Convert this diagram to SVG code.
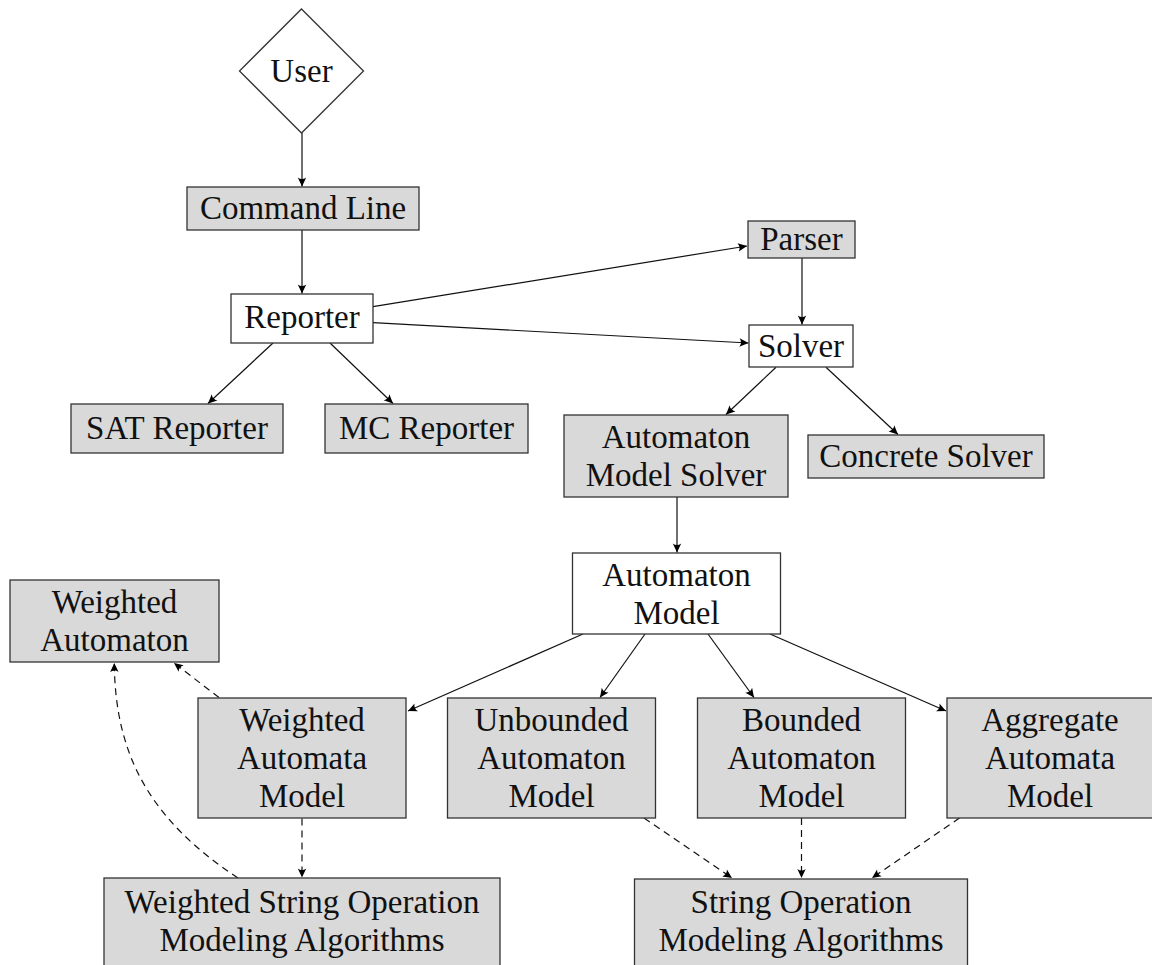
<svg xmlns="http://www.w3.org/2000/svg" width="1152" height="965" viewBox="0 0 1152 965">
  <defs>
    <marker id="tip" viewBox="-10 -5 11 10" refX="0" refY="0" markerWidth="11" markerHeight="10" markerUnits="userSpaceOnUse" orient="auto">
      <path d="M0,0 L-9,-4.2 Q-6,0 -9,4.2 Z" fill="#000"/>
    </marker>
  </defs>
  <style>
    .box { stroke: #333; stroke-width: 1.3; }
    .grey { fill: #d9d9d9; }
    .white { fill: #fff; }
    text { font-family: "Liberation Serif", "Times New Roman", serif; font-size: 33px; fill: #111; text-anchor: middle; }
    .edge { fill: none; stroke: #111; stroke-width: 1.2; marker-end: url(#tip); }
    .dash { stroke-dasharray: 7 5; }
  </style>
  <rect width="1152" height="965" fill="#fff"/>

  <g id="connectors">
    <line class="edge" x1="302" y1="133" x2="302" y2="186.5"/>
    <line class="edge" x1="302" y1="230" x2="302" y2="293.5"/>
    <line class="edge" x1="273" y1="343" x2="208" y2="403.5"/>
    <line class="edge" x1="330" y1="343" x2="393" y2="403.5"/>
    <line class="edge" x1="373" y1="306.7" x2="747" y2="246"/>
    <line class="edge" x1="373" y1="322.7" x2="748.5" y2="343"/>
    <line class="edge" x1="802" y1="258" x2="802" y2="324.5"/>
    <line class="edge" x1="776" y1="367.3" x2="726" y2="414.5"/>
    <line class="edge" x1="826" y1="367.3" x2="898" y2="434.5"/>
    <line class="edge" x1="677" y1="497" x2="677" y2="552.5"/>
    <line class="edge" x1="583" y1="634" x2="408" y2="711"/>
    <line class="edge" x1="645" y1="634" x2="600" y2="697.5"/>
    <line class="edge" x1="708" y1="634" x2="754" y2="697.5"/>
    <line class="edge" x1="770" y1="634" x2="946" y2="711"/>
    <line class="edge dash" x1="644" y1="818" x2="732" y2="878"/>
    <line class="edge dash" x1="801.5" y1="818" x2="801.5" y2="878"/>
    <line class="edge dash" x1="959.5" y1="818" x2="872" y2="878"/>
    <line class="edge dash" x1="302" y1="818.5" x2="302" y2="877.5"/>
    <line class="edge dash" x1="219" y1="697.5" x2="174" y2="663"/>
    <path class="edge dash" d="M238,878 C150,820 115,755 114.3,663"/>
  </g>

  <g id="user">
    <polygon class="box white" points="301.5,9 363.5,71 301.5,133 239.5,71"/>
    <text x="301.5" y="82">User</text>
  </g>
  <g id="command-line">
    <rect class="box grey" x="187" y="187" width="232" height="43"/>
    <text x="303" y="219">Command Line</text>
  </g>
  <g id="reporter">
    <rect class="box white" x="231" y="294" width="142" height="49"/>
    <text x="302" y="328">Reporter</text>
  </g>
  <g id="sat-reporter">
    <rect class="box grey" x="71" y="404" width="212" height="49"/>
    <text x="177" y="439">SAT Reporter</text>
  </g>
  <g id="mc-reporter">
    <rect class="box grey" x="325" y="404" width="203" height="49"/>
    <text x="426.5" y="439">MC Reporter</text>
  </g>
  <g id="parser">
    <rect class="box grey" x="748" y="221" width="107" height="37"/>
    <text x="801.5" y="250">Parser</text>
  </g>
  <g id="solver">
    <rect class="box white" x="749" y="325" width="104" height="42"/>
    <text x="801" y="357">Solver</text>
  </g>
  <g id="automaton-model-solver">
    <rect class="box grey" x="564" y="415" width="224" height="82"/>
    <text x="676" y="448">Automaton</text>
    <text x="676" y="486">Model Solver</text>
  </g>
  <g id="concrete-solver">
    <rect class="box grey" x="808" y="435" width="236" height="43"/>
    <text x="926" y="467">Concrete Solver</text>
  </g>
  <g id="automaton-model">
    <rect class="box white" x="572.5" y="553" width="208" height="81"/>
    <text x="676.5" y="586">Automaton</text>
    <text x="676.5" y="624">Model</text>
  </g>
  <g id="weighted-automaton">
    <rect class="box grey" x="10" y="580" width="209" height="82"/>
    <text x="114.5" y="613">Weighted</text>
    <text x="114.5" y="651">Automaton</text>
  </g>
  <g id="weighted-automata-model">
    <rect class="box grey" x="198" y="698" width="208" height="120"/>
    <text x="302" y="731">Weighted</text>
    <text x="302" y="769">Automata</text>
    <text x="302" y="807">Model</text>
  </g>
  <g id="unbounded-automaton-model">
    <rect class="box grey" x="447.5" y="698" width="208" height="120"/>
    <text x="551.5" y="731">Unbounded</text>
    <text x="551.5" y="769">Automaton</text>
    <text x="551.5" y="807">Model</text>
  </g>
  <g id="bounded-automaton-model">
    <rect class="box grey" x="697.5" y="698" width="208" height="120"/>
    <text x="801.5" y="731">Bounded</text>
    <text x="801.5" y="769">Automaton</text>
    <text x="801.5" y="807">Model</text>
  </g>
  <g id="aggregate-automata-model">
    <rect class="box grey" x="947" y="698" width="208" height="120"/>
    <text x="1050" y="731">Aggregate</text>
    <text x="1050" y="769">Automata</text>
    <text x="1050" y="807">Model</text>
  </g>
  <g id="weighted-string-operation-modeling-algorithms">
    <rect class="box grey" x="104" y="878" width="396" height="110"/>
    <text x="302" y="913">Weighted String Operation</text>
    <text x="302" y="951">Modeling Algorithms</text>
  </g>
  <g id="string-operation-modeling-algorithms">
    <rect class="box grey" x="634.5" y="879" width="333" height="110"/>
    <text x="801" y="913">String Operation</text>
    <text x="801" y="951">Modeling Algorithms</text>
  </g>
</svg>
